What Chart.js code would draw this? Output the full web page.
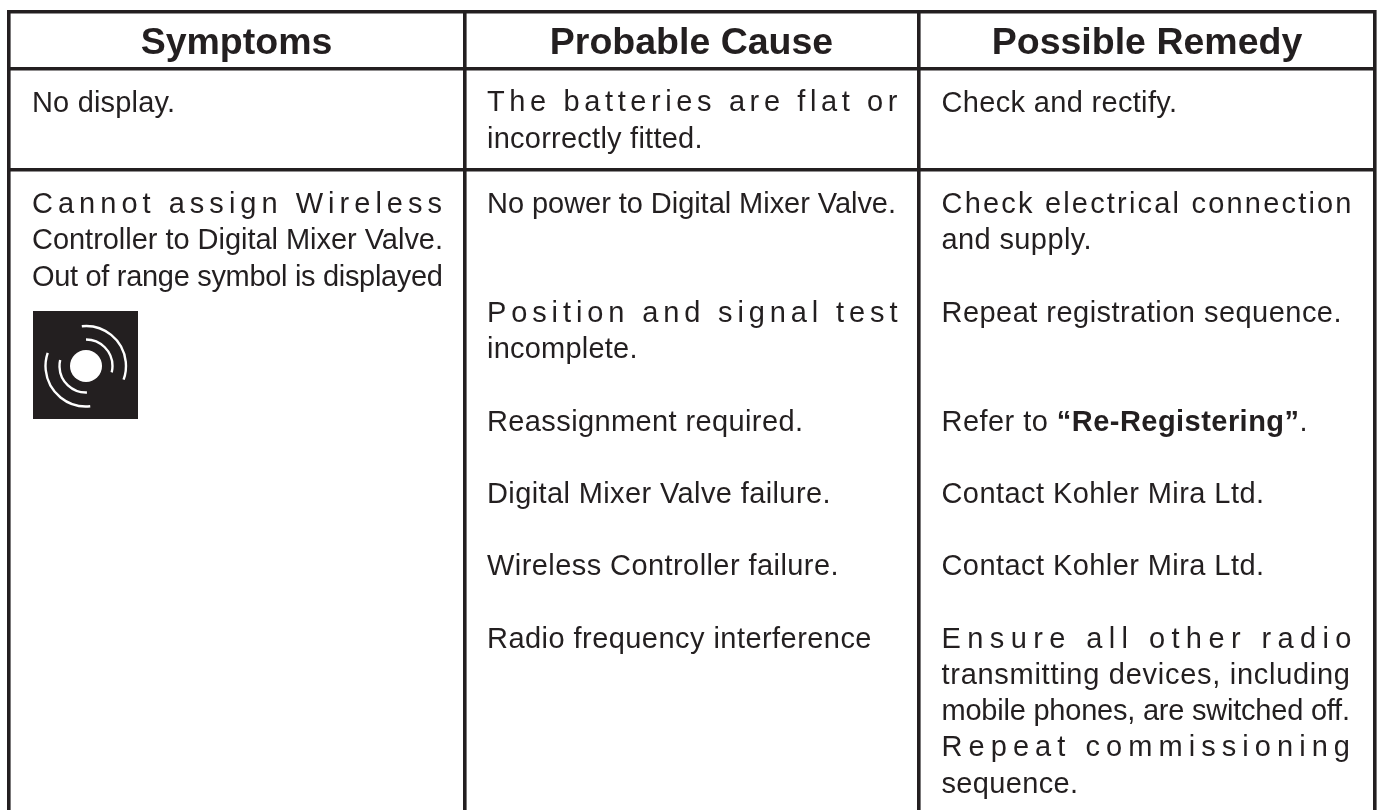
<!DOCTYPE html>
<html>
<head>
<meta charset="utf-8">
<title>Fault finding table</title>
<script src="https://cdn.jsdelivr.net/npm/chart.js@4/dist/chart.umd.min.js"></script>
<style>
    html, body { margin: 0; padding: 0; background: #ffffff; overflow: hidden; }
    canvas { display: block; }
</style>
</head>
<body>
<canvas id="tableChart" width="1380" height="810"></canvas>
<script>
// Table rules, in picture units
const columnEdges = [9, 464.5, 918.5, 1374.5];
const rowEdges = [11.5, 69, 170];

// Headers
const headers = ["Symptoms", "Probable Cause", "Possible Remedy"];
const headerCentres = [236.5, 691.5, 1147];
const headerBaseline = [54, 54, 54];

// Symptoms column
const symptomLines = [
    "No display.",
    "Cannot assign Wireless",
    "Controller to Digital Mixer Valve.",
    "Out of range symbol is displayed"
];
const symptomBaselines = [111.5, 212.5, 249, 285.5];
const symptomEnds = [175, 442, 443, 443];

// Probable cause column
const causeLines = [
    "The batteries are flat or",
    "incorrectly fitted.",
    "No power to Digital Mixer Valve.",
    "Position and signal test",
    "incomplete.",
    "Reassignment required.",
    "Digital Mixer Valve failure.",
    "Wireless Controller failure.",
    "Radio frequency interference"
];
const causeBaselines = [111, 147.5, 212.5, 321.5, 358, 430.5, 502.5, 575, 647.5];
const causeEnds = [897.5, 702.5, 896, 897.5, 637.5, 803, 830.5, 838.5, 871.5];

// Possible remedy column, ** marks bold text
const remedyLines = [
    "Check and rectify.",
    "Check electrical connection",
    "and supply.",
    "Repeat registration sequence.",
    "Refer to **“Re-Registering”**.",
    "Contact Kohler Mira Ltd.",
    "Contact Kohler Mira Ltd.",
    "Ensure all other radio",
    "transmitting devices, including",
    "mobile phones, are switched off.",
    "Repeat commissioning",
    "sequence."
];
const remedyBaselines = [111.5, 212.5, 249, 321.5, 431, 502.5, 574.5, 647.5, 683.5, 720, 756, 792.5];
const remedyEnds = [1177, 1351.5, 1091.5, 1341.5, 1307.5, 1264, 1264, 1351.5, 1350, 1350, 1350, 1078];

const INK = "#231f20";
const FONT = '"Liberation Sans", Arial, sans-serif';
const BODY_SIZE = 29;
const HEADER_SIZE = 37.5;
const COLUMN_TEXT_X = [32, 487, 941.5];

// Out of range symbol
const iconSpot = [{ x: 85.5, y: 365 }];

function buildIcon() {
    const icon = document.createElement("canvas");
    icon.width = 105;
    icon.height = 108;
    const c = icon.getContext("2d");
    c.fillStyle = INK;
    c.fillRect(0, 0, 105, 108);
    c.fillStyle = "#ffffff";
    c.strokeStyle = "#ffffff";
    c.lineWidth = 2.4;
    const cx = 53, cy = 55;
    c.beginPath();
    c.arc(cx, cy, 16, 0, Math.PI * 2);
    c.fill();
    const arcs = [
        [40, -96, 20],
        [26.5, -90, 14],
        [40.5, 84, 199],
        [26.5, 88, 193]
    ];
    arcs.forEach(a => {
        c.beginPath();
        c.arc(cx, cy, a[0], a[1] * Math.PI / 180, a[2] * Math.PI / 180);
        c.stroke();
    });
    return icon;
}

function toPoints(xValue, ys) {
    return ys.map(y => ({ x: xValue, y: y }));
}

// Draws one text line, spreading or tightening letters to fit the line end
function drawFitted(ctx, text, x, y, endX) {
    const parts = text.split("**");
    const plain = parts.join("");
    ctx.letterSpacing = "0px";
    let natural = 0;
    parts.forEach((part, i) => {
        ctx.font = `${i % 2 ? "bold " : ""}${BODY_SIZE}px ${FONT}`;
        natural += ctx.measureText(part).width;
    });
    const spacing = (endX - x - natural) / (plain.length - 1);
    ctx.letterSpacing = `${spacing}px`;
    let cursor = x;
    parts.forEach((part, i) => {
        ctx.font = `${i % 2 ? "bold " : ""}${BODY_SIZE}px ${FONT}`;
        ctx.fillText(part, cursor, y);
        cursor += ctx.measureText(part).width;
    });
    ctx.letterSpacing = "0px";
}

const tableText = {
    id: "tableText",
    afterDatasetsDraw(chart) {
        const ctx = chart.ctx;
        ctx.save();
        ctx.fillStyle = INK;
        ctx.textBaseline = "alphabetic";
        chart.data.datasets.forEach((ds, i) => {
            if (!ds.lines) return;
            const meta = chart.getDatasetMeta(i);
            meta.data.forEach((pt, j) => {
                if (ds.isHeader) {
                    ctx.font = `bold ${HEADER_SIZE}px ${FONT}`;
                    ctx.textAlign = "center";
                    ctx.fillText(ds.lines[j], pt.x, pt.y);
                } else {
                    ctx.textAlign = "left";
                    drawFitted(ctx, ds.lines[j], pt.x, pt.y, chart.scales.x.getPixelForValue(ds.ends[j]));
                }
            });
        });
        ctx.restore();
    }
};

function gridAxis(edges, extra) {
    return Object.assign({
        type: "linear",
        afterBuildTicks: scale => { scale.ticks = edges.map(v => ({ value: v })); },
        ticks: { display: false },
        border: { display: false },
        grid: { color: INK, lineWidth: 3.6, drawTicks: false }
    }, extra);
}

new Chart(document.getElementById("tableChart"), {
    type: "scatter",
    data: {
        datasets: [
            {
                label: "Headers",
                data: headerCentres.map((x, i) => ({ x: x, y: headerBaseline[i] })),
                lines: headers,
                isHeader: true,
                pointRadius: 0
            },
            { label: "Symptoms", data: toPoints(COLUMN_TEXT_X[0], symptomBaselines), lines: symptomLines, ends: symptomEnds, pointRadius: 0 },
            { label: "Probable Cause", data: toPoints(COLUMN_TEXT_X[1], causeBaselines), lines: causeLines, ends: causeEnds, pointRadius: 0 },
            { label: "Possible Remedy", data: toPoints(COLUMN_TEXT_X[2], remedyBaselines), lines: remedyLines, ends: remedyEnds, pointRadius: 0 },
            { label: "Icon", data: iconSpot, pointStyle: buildIcon(), pointRadius: 10 }
        ]
    },
    options: {
        responsive: false,
        animation: false,
        events: [],
        // the icon point would otherwise push the plot area in by its radius
        layout: { autoPadding: false, padding: { left: 7, right: 4, top: 10, bottom: 0 } },
        plugins: { legend: { display: false }, tooltip: { enabled: false } },
        scales: {
            x: gridAxis(columnEdges, { min: 7, max: 1376 }),
            y: gridAxis(rowEdges, { min: 10, max: 810, reverse: true })
        }
    },
    plugins: [tableText]
});
</script>
</body>
</html>
